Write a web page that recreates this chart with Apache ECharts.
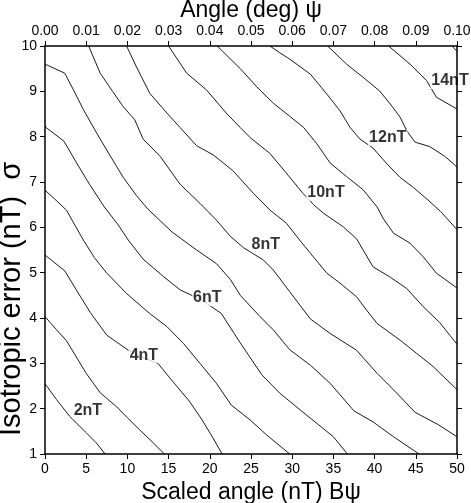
<!DOCTYPE html>
<html><head><meta charset="utf-8">
<script src="https://cdn.jsdelivr.net/npm/echarts@6/dist/echarts.min.js"></script>
<style>html,body{margin:0;padding:0;background:#fff}#c{width:471px;height:503px}</style>
</head><body><div id="c"></div>
<script>
// Contour lines (x = scaled angle nT, y = isotropic error nT), levels 2..15 nT
const c2 = [[0,2.55],[1.4,2.2],[3.0,1.83],[5.0,1.47],[6.2,1.25],[7.3,1.0]];
const c3 = [[0,4.03],[1.4,3.74],[2.6,3.5],[4.0,3.08],[5.0,2.78],[6.7,2.35],[8.7,2.04],[10.0,1.8],[11.5,1.53],[13.0,1.27],[14.5,1.0]];
const c4 = [[0,5.39],[2.4,5.04],[3.8,4.62],[5.5,4.12],[7.5,3.62],[10.1,3.29],[12.0,3.12],[13.7,3.0],[15.5,2.6],[17.5,2.17],[19.0,1.77],[20.3,1.38],[21.5,1.0]];
const c5 = [[0,6.82],[1.2,6.62],[2.6,6.38],[4.65,5.72],[6.0,5.33],[7.5,4.99],[9.9,4.54],[12.7,4.1],[14.8,3.81],[16.8,3.44],[18.8,3.0],[20.8,2.56],[22.6,2.08],[24.9,1.75],[26.9,1.42],[29.7,1.0]];
const c6 = [[0,8.22],[2.3,7.9],[3.9,7.4],[5.4,6.95],[7.2,6.45],[8.9,6.05],[10.1,5.72],[11.9,5.3],[14.4,4.91],[16.4,4.62],[19.0,4.4],[21.4,4.1],[23.7,3.45],[26.3,2.75],[28.5,2.34],[31.8,1.85],[35.0,1.38],[36.7,1.0]];
const c7 = [[0,9.6],[2.4,9.4],[3.4,9.05],[4.65,8.6],[6.3,8.07],[7.9,7.58],[9.5,7.1],[11.1,6.7],[12.5,6.4],[15.4,5.9],[18.4,5.5],[20.8,5.2],[22.5,4.85],[23.7,4.5],[26.1,4.03],[27.7,3.74],[29.7,3.3],[32.2,2.96],[34.6,2.56],[37.5,1.95],[39.8,1.71],[42.3,1.38],[45.4,1.0]];
const c8 = [[5.3,10],[6.7,9.4],[8.2,9.0],[9.5,8.66],[10.9,8.37],[11.9,7.95],[14.0,7.56],[16.4,6.95],[18.8,6.53],[20.8,6.16],[22.5,5.8],[24.1,5.55],[26.5,5.28],[27.7,5.06],[29.7,4.58],[32.2,3.98],[34.6,3.66],[37.8,3.29],[40.3,2.78],[42.5,2.38],[44.9,1.92],[47.7,1.65],[50,1.38]];
const c9 = [[9.9,10],[11.1,9.54],[12.7,8.96],[14.8,8.52],[16.4,8.2],[18.4,7.8],[20.4,7.6],[22.8,7.25],[25.3,6.75],[27.3,6.38],[29.3,6.09],[30.9,5.72],[32.2,5.43],[34.2,4.99],[35.8,4.77],[37.8,4.47],[39.0,4.18],[40.3,3.88],[43.1,3.51],[45.1,3.22],[47.1,2.93],[48.8,2.63],[50,2.42]];
const c10 = [[15.0,10],[17.2,9.4],[19.6,9.03],[22.0,8.52],[23.7,8.2],[24.9,7.98],[27.3,7.63],[29.5,7.15],[31.3,6.75],[32.6,6.5],[33.8,6.31],[36.2,6.01],[37.8,5.75],[39.8,5.13],[41.9,4.9],[43.9,4.65],[45.9,4.25],[47.9,3.9],[50,3.42]];
const c11 = [[20.9,10],[22.3,9.75],[23.7,9.5],[25.7,9.1],[27.7,8.74],[29.7,8.45],[31.4,8.2],[33.0,7.84],[34.6,7.42],[36.6,7.12],[38.6,6.83],[40.3,6.45],[41.1,6.18],[42.3,5.87],[44.3,5.65],[45.9,5.35],[47.5,4.99],[50,4.66]];
const c12 = [[27.3,10],[28.5,9.85],[29.7,9.71],[32.2,9.38],[34.2,8.94],[35.8,8.57],[37.0,8.21],[38.2,7.95],[39.8,7.75],[41.5,7.40],[43.1,7.10],[44.7,6.88],[46.5,6.6],[48.0,6.35],[50,5.95]];
const c13 = [[34.3,10],[36.6,9.6],[38.6,9.31],[40.6,9.01],[41.9,8.72],[43.1,8.43],[43.9,8.13],[44.9,7.88],[46.7,7.78],[48.5,7.57],[50,7.33]];
const c14 = [[41.7,10],[44.3,9.6],[46.3,9.24],[47.5,8.87],[50,8.61]];
const c15 = [[49.4,10],[50,9.88]];
const contours = [c2,c3,c4,c5,c6,c7,c8,c9,c10,c11,c12,c13,c14,c15];

// Contour labels
const labelX = [5.2,12.0,19.7,26.8,34.1,41.6,49.15];
const labelY = [1.95,3.18,4.44,5.63,6.76,7.97,9.23];
const labelText = ['2nT','4nT','6nT','8nT','10nT','12nT','14nT'];

const FONT = '"Liberation Sans", Arial, Helvetica, sans-serif';
const chart = echarts.init(document.getElementById('c'), null, {renderer:'canvas'});

const series = contours.map(function(d){
  return {type:'line', xAxisIndex:0, yAxisIndex:0, data:d, showSymbol:false, symbol:'none',
    lineStyle:{color:'#1a1a1a', width:1}, silent:true, animation:false, z:2};
});
series.push({
  type:'scatter', xAxisIndex:0, yAxisIndex:0, symbolSize:0, silent:true, animation:false, z:5,
  data: labelX.map(function(x,i){ return {value:[x, labelY[i]], name:labelText[i]}; }),
  label:{show:true, position:'inside', formatter:function(p){return p.name;},
    fontFamily:FONT, fontWeight:'bold', fontSize:16, color:'#000', backgroundColor:'#fff', padding:[0,1]}
});

const axisCommon = {
  axisLine:{show:true, onZero:false, lineStyle:{color:'#000', width:1.5}},
  axisTick:{show:true, inside:false, length:5, lineStyle:{color:'#000', width:1}},
  splitLine:{show:false},
  axisLabel:{fontFamily:FONT, fontSize:14, color:'#000', margin:8},
  nameTextStyle:{fontFamily:FONT, fontSize:23, color:'#000'},
  nameMoveOverlap:false,
  z:6
};

chart.setOption({
  animation:false,
  backgroundColor:'#fff',
  grid:{left:45, right:14, top:46, bottom:49, containLabel:false, outerBoundsMode:'none'},
  xAxis:[
    Object.assign({}, axisCommon, {type:'value', position:'bottom', min:0, max:50, interval:5,
      name:'Scaled angle (nT) Bψ', nameLocation:'middle', nameGap:27}),
    Object.assign({}, axisCommon, {type:'value', position:'top', min:0, max:0.1, interval:0.01,
      name:'Angle (deg) ψ', nameLocation:'middle', nameGap:24,
      axisLabel:Object.assign({}, axisCommon.axisLabel, {formatter:function(v){return v.toFixed(2);}})})
  ],
  yAxis:[
    Object.assign({}, axisCommon, {type:'value', position:'left', min:1, max:10, interval:1,
      name:'Isotropic error (nT)  σ', nameLocation:'middle', nameGap:19,
      nameTextStyle:{fontFamily:FONT, fontSize:29, color:'#000', padding:[0,98,0,0]}}),
    Object.assign({}, axisCommon, {type:'value', position:'right', min:1, max:10, interval:1,
      axisLabel:{show:false}})
  ],
  series:series
});
</script></body></html>
